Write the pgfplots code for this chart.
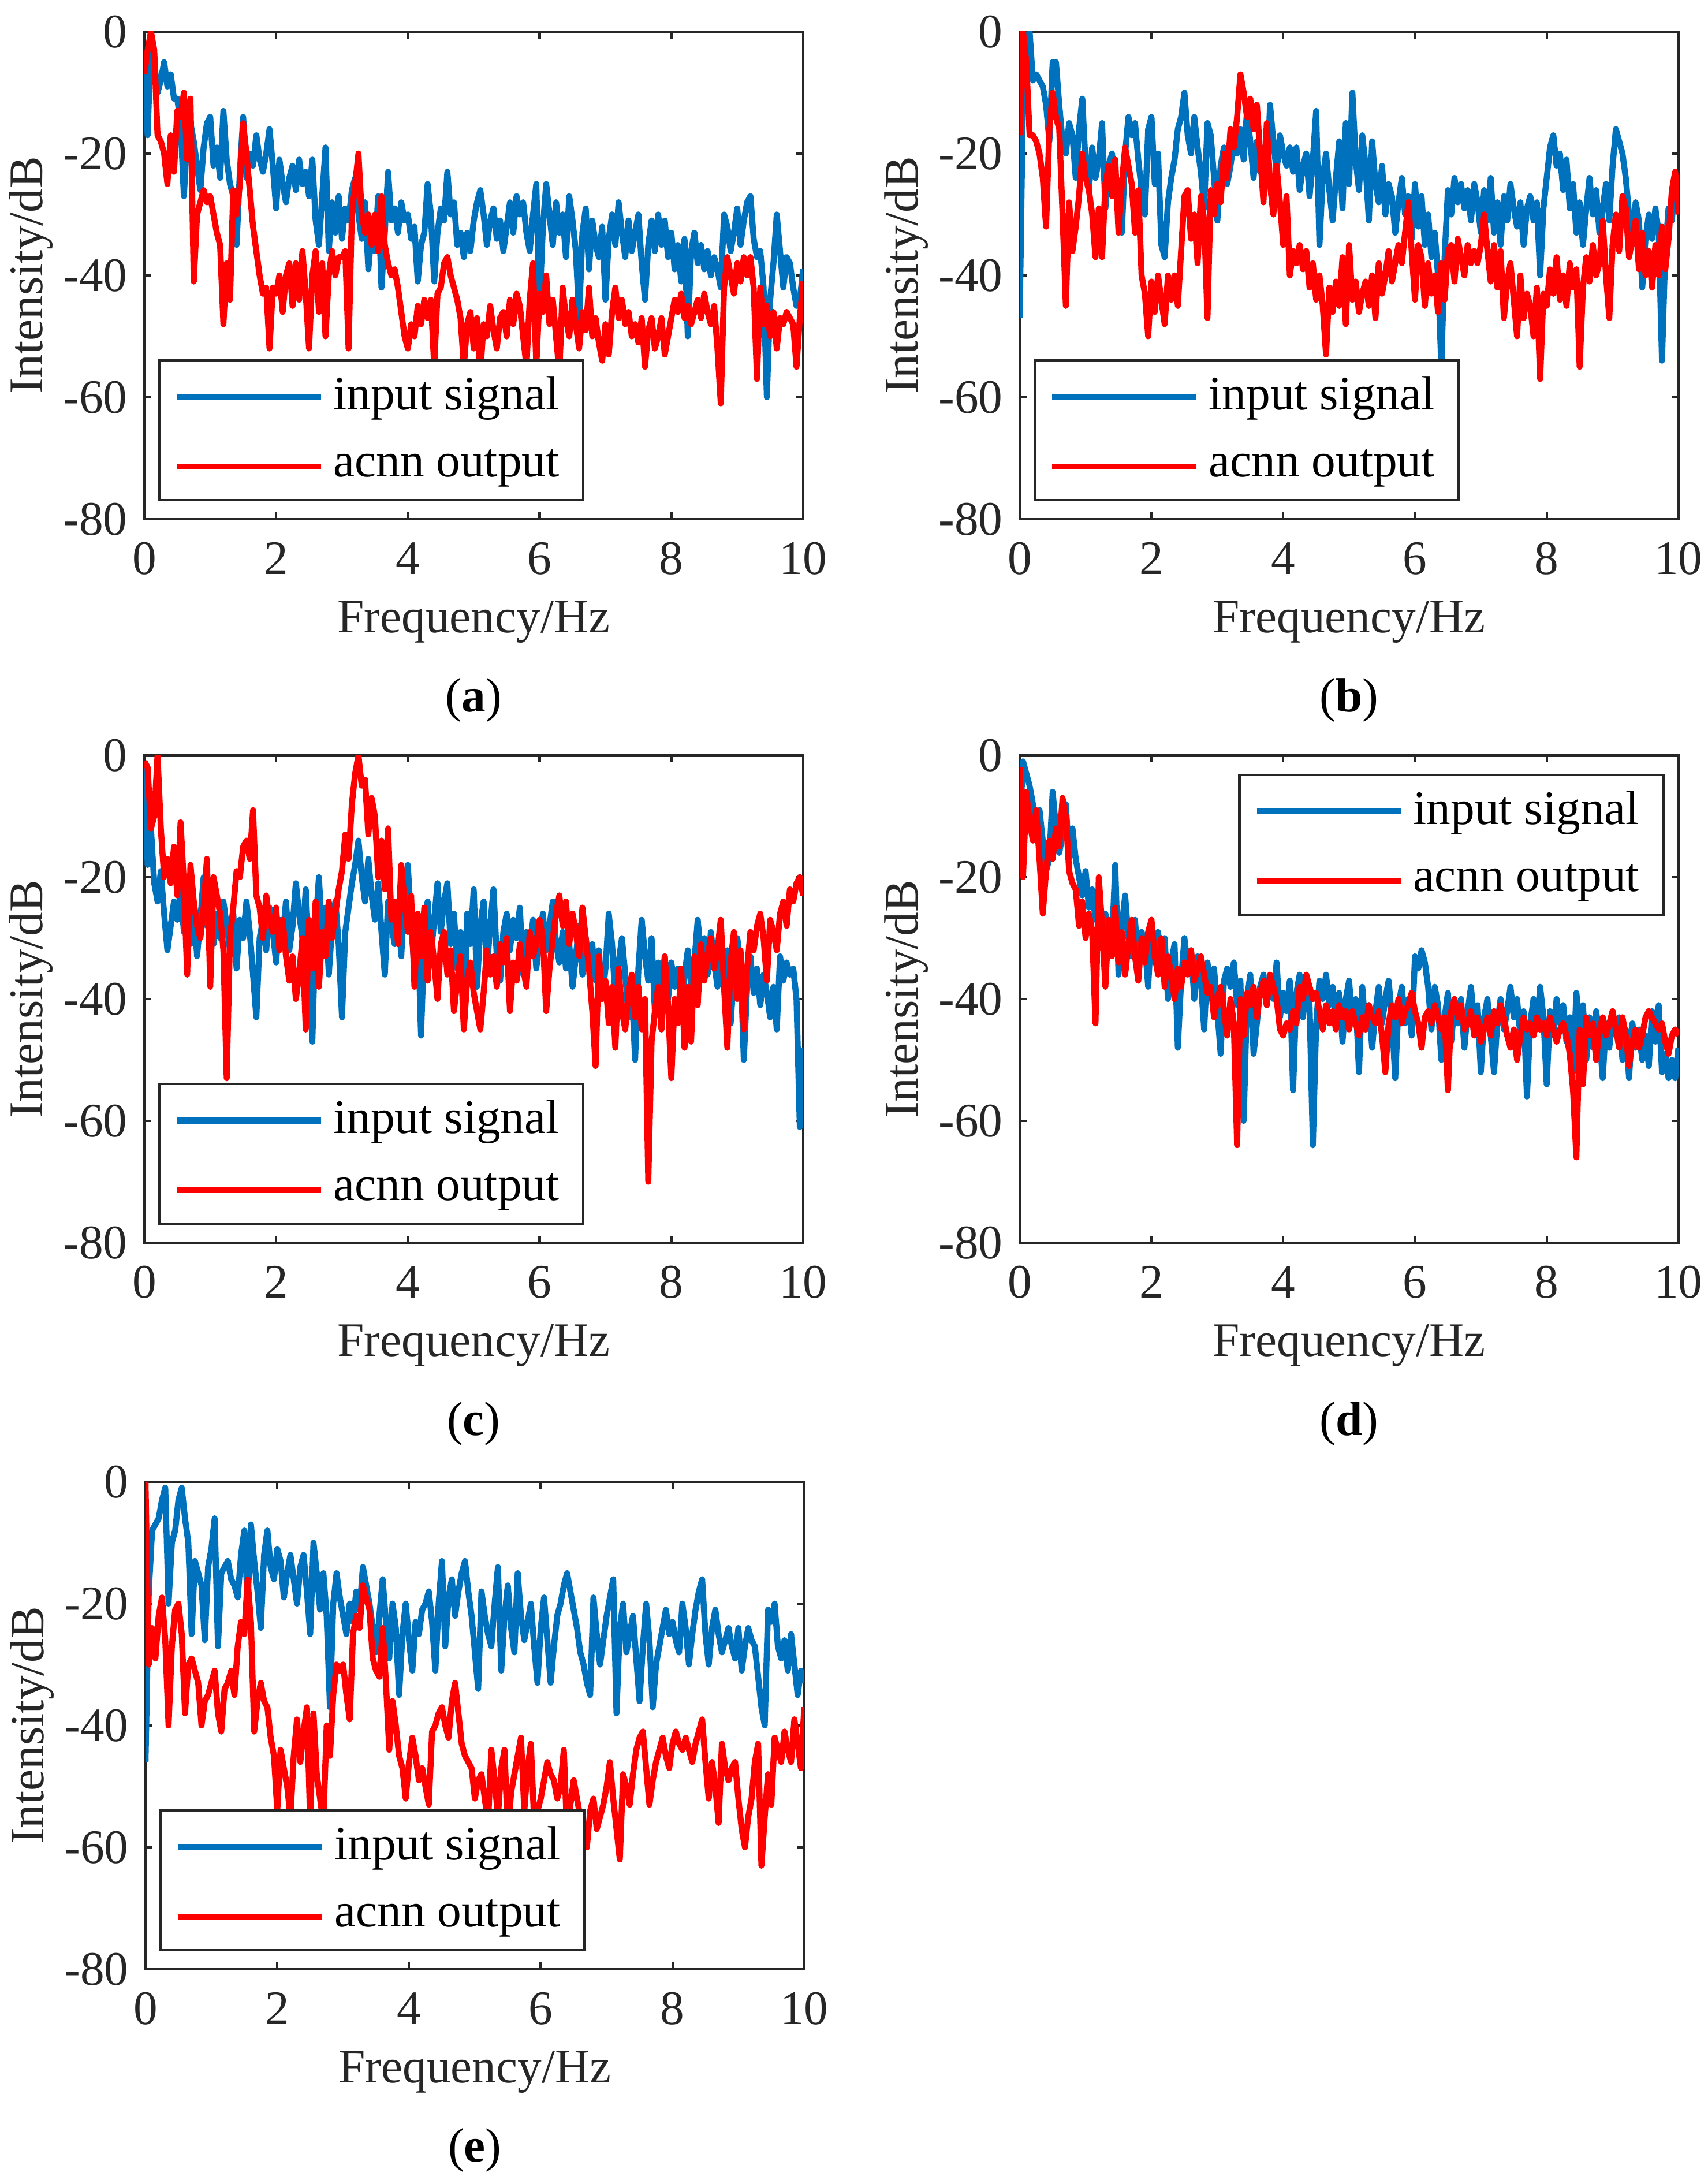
\documentclass[border=0pt]{standalone}
\usepackage{fontspec}
\setmainfont{Liberation Serif}
\usepackage{pgfplots}
\usepackage{pgfplotstable}
\pgfplotsset{compat=1.18}
\definecolor{mblue}{RGB}{0,114,189}
\definecolor{mred}{RGB}{255,0,0}
\definecolor{axgray}{RGB}{38,38,38}

\pgfplotstableread{
f in out
0 -7 -7
0.05 -17 -3
0.1 -1 0
0.15 -5 -3
0.2 -10 -17
0.25 -8 -18
0.3 -5 -20
0.35 -9 -25
0.4 -7 -17
0.45 -11 -23
0.5 -11 -13
0.55 -15 -14
0.6 -27 -10
0.65 -17 -21
0.7 -15 -11
0.75 -18 -41
0.8 -22 -30
0.85 -26 -28
0.9 -19 -26
0.95 -15 -28
1 -14 -27
1.05 -22 -30
1.1 -19 -33
1.15 -24 -35
1.2 -13 -48
1.25 -21 -38
1.3 -25 -44
1.35 -27 -26
1.4 -35 -30
1.45 -23 -25
1.5 -14 -15
1.55 -24 -20
1.6 -20 -26
1.65 -22 -32
1.7 -17 -36
1.75 -21 -40
1.8 -23 -43
1.85 -20 -42
1.9 -16 -52
1.95 -22 -42
2 -29 -43
2.05 -21 -40
2.1 -25 -46
2.15 -28 -40
2.2 -24 -38
2.25 -22 -45
2.3 -26 -38
2.35 -21 -44
2.4 -25 -36
2.45 -23 -43
2.5 -27 -52
2.55 -21 -40
2.6 -31 -36
2.65 -35 -46
2.7 -27 -38
2.75 -19 -50
2.8 -36 -40
2.85 -28 -36
2.9 -33 -40
2.95 -27 -37
3 -34 -37
3.05 -29 -36
3.1 -31 -52
3.15 -26 -30
3.2 -24 -25
3.25 -30 -20
3.3 -34 -30
3.35 -28 -33
3.4 -39 -30
3.45 -33 -35
3.5 -36 -30
3.55 -27 -36
3.6 -42 -27
3.65 -33 -35
3.7 -23 -38
3.75 -31 -40
3.8 -29 -39
3.85 -33 -42
3.9 -28 -46
3.95 -31 -50
4 -30 -52
4.05 -34 -48
4.1 -32 -50
4.15 -41 -45
4.2 -35 -48
4.25 -33 -44
4.3 -25 -47
4.35 -30 -44
4.4 -41 -55
4.45 -33 -43
4.5 -29 -42
4.55 -31 -38
4.6 -23 -37
4.65 -30 -40
4.7 -28 -42
4.75 -35 -44
4.8 -33 -47
4.85 -37 -55
4.9 -33 -48
4.95 -36 -46
5 -31 -52
5.05 -28 -47
5.1 -26 -56
5.15 -30 -48
5.2 -35 -50
5.25 -31 -45
5.3 -29 -49
5.35 -34 -52
5.4 -31 -47
5.45 -36 -46
5.5 -32 -50
5.55 -28 -44
5.6 -33 -48
5.65 -27 -43
5.7 -30 -45
5.75 -28 -50
5.8 -33 -55
5.85 -36 -44
5.9 -30 -38
5.95 -25 -55
6 -45 -43
6.05 -32 -46
6.1 -25 -40
6.15 -30 -48
6.2 -35 -44
6.25 -28 -50
6.3 -33 -56
6.35 -30 -42
6.4 -37 -47
6.45 -27 -50
6.5 -31 -44
6.55 -36 -48
6.6 -47 -52
6.65 -33 -46
6.7 -29 -49
6.75 -39 -42
6.8 -31 -50
6.85 -35 -47
6.9 -37 -51
6.95 -32 -54
7 -44 -48
7.05 -34 -53
7.1 -30 -46
7.15 -35 -42
7.2 -28 -47
7.25 -33 -44
7.3 -37 -48
7.35 -31 -46
7.4 -36 -50
7.45 -33 -48
7.5 -30 -51
7.55 -38 -47
7.6 -44 -55
7.65 -35 -49
7.7 -31 -47
7.75 -36 -52
7.8 -30 -50
7.85 -35 -47
7.9 -31 -53
7.95 -37 -50
8 -33 -47
8.05 -39 -44
8.1 -35 -46
8.15 -41 -43
8.2 -34 -47
8.25 -50 -45
8.3 -36 -48
8.35 -33 -46
8.4 -38 -44
8.45 -35 -47
8.5 -39 -43
8.55 -36 -46
8.6 -40 -48
8.65 -37 -45
8.7 -39 -52
8.75 -42 -61
8.8 -30 -42
8.85 -32 -37
8.9 -36 -40
8.95 -33 -43
9 -29 -38
9.05 -35 -41
9.1 -31 -37
9.15 -28 -40
9.2 -27 -37
9.25 -34 -42
9.3 -37 -57
9.35 -36 -42
9.4 -42 -48
9.45 -60 -45
9.5 -44 -50
9.55 -38 -46
9.6 -30 -52
9.65 -36 -47
9.7 -42 -48
9.75 -37 -46
9.8 -38 -47
9.85 -42 -48
9.9 -45 -55
9.95 -44 -47
10 -39 -41
}\dataA

\pgfplotstableread{
f in out
0 -47 -17
0.05 -10 0
0.1 -2 -5
0.15 0 -17
0.2 -8 -17
0.25 -7 -18
0.3 -8 -20
0.35 -9 -24
0.4 -12 -32
0.45 -18 -16
0.5 -5 -10
0.55 -5 -14
0.6 -12 -16
0.65 -18 -30
0.7 -20 -45
0.75 -15 -28
0.8 -17 -36
0.85 -24 -32
0.9 -16 -27
0.95 -11 -20
1 -22 -24
1.05 -26 -26
1.1 -19 -30
1.15 -24 -37
1.2 -21 -29
1.25 -15 -37
1.3 -29 -25
1.35 -22 -22
1.4 -20 -27
1.45 -24 -21
1.5 -30 -33
1.55 -33 -25
1.6 -20 -19
1.65 -14 -22
1.7 -17 -25
1.75 -15 -33
1.8 -21 -26
1.85 -26 -40
1.9 -30 -43
1.95 -16 -50
2 -14 -41
2.05 -25 -46
2.1 -20 -40
2.15 -35 -44
2.2 -37 -48
2.25 -28 -40
2.3 -24 -44
2.35 -21 -40
2.4 -16 -45
2.45 -14 -36
2.5 -10 -27
2.55 -17 -26
2.6 -20 -34
2.65 -14 -30
2.7 -19 -38
2.75 -23 -27
2.8 -29 -31
2.85 -15 -47
2.9 -17 -26
2.95 -24 -30
3 -31 -25
3.05 -22 -28
3.1 -19 -20
3.15 -25 -24
3.2 -22 -16
3.25 -18 -19
3.3 -20 -14
3.35 -16 -7
3.4 -21 -10
3.45 -13 -14
3.5 -18 -11
3.55 -24 -16
3.6 -18 -12
3.65 -23 -20
3.7 -19 -28
3.75 -25 -15
3.8 -12 -25
3.85 -18 -30
3.9 -23 -22
3.95 -17 -28
4 -20 -35
4.05 -22 -27
4.1 -19 -40
4.15 -23 -36
4.2 -19 -38
4.25 -26 -35
4.3 -22 -39
4.35 -20 -36
4.4 -27 -42
4.45 -21 -38
4.5 -13 -44
4.55 -35 -40
4.6 -24 -45
4.65 -20 -53
4.7 -26 -42
4.75 -31 -46
4.8 -24 -41
4.85 -18 -45
4.9 -29 -37
4.95 -15 -48
5 -25 -35
5.05 -10 -44
5.1 -21 -41
5.15 -26 -46
5.2 -17 -43
5.25 -22 -41
5.3 -31 -45
5.35 -18 -40
5.4 -25 -47
5.45 -28 -38
5.5 -22 -43
5.55 -30 -40
5.6 -25 -36
5.65 -27 -41
5.7 -33 -38
5.75 -28 -35
5.8 -24 -38
5.85 -30 -33
5.9 -27 -28
5.95 -34 -36
6 -25 -44
6.05 -32 -35
6.1 -27 -37
6.15 -35 -45
6.2 -30 -38
6.25 -37 -43
6.3 -33 -40
6.35 -40 -46
6.4 -55 -38
6.45 -37 -44
6.5 -26 -36
6.55 -30 -35
6.6 -24 -41
6.65 -28 -34
6.7 -25 -37
6.75 -29 -40
6.8 -26 -35
6.85 -31 -38
6.9 -25 -36
6.95 -28 -38
7 -33 -35
7.05 -26 -30
7.1 -31 -36
7.15 -24 -41
7.2 -33 -35
7.25 -28 -42
7.3 -35 -36
7.35 -27 -47
7.4 -31 -41
7.45 -25 -38
7.5 -29 -44
7.55 -32 -50
7.6 -28 -40
7.65 -35 -47
7.7 -29 -43
7.75 -27 -45
7.8 -31 -50
7.85 -28 -42
7.9 -40 -57
7.95 -29 -43
8 -24 -45
8.05 -19 -39
8.1 -17 -43
8.15 -22 -37
8.2 -20 -44
8.25 -26 -40
8.3 -21 -45
8.35 -29 -38
8.4 -25 -42
8.45 -33 -39
8.5 -28 -55
8.55 -35 -42
8.6 -29 -37
8.65 -24 -41
8.7 -30 -35
8.75 -26 -40
8.8 -33 -38
8.85 -29 -31
8.9 -25 -40
8.95 -31 -47
9 -22 -35
9.05 -16 -30
9.1 -18 -36
9.15 -20 -27
9.2 -24 -29
9.25 -30 -37
9.3 -35 -34
9.35 -28 -31
9.4 -31 -39
9.45 -42 -33
9.5 -34 -40
9.55 -30 -36
9.6 -34 -42
9.65 -29 -35
9.7 -33 -40
9.75 -54 -32
9.8 -36 -39
9.85 -29 -34
9.9 -31 -26
9.95 -24 -23
10 -27 -30
}\dataB

\pgfplotstableread{
f in out
0 -1 -1
0.05 -18 -2
0.1 -12 -12
0.15 -21 -10
0.2 -24 0
0.25 -19 -12
0.3 -26 -20
0.35 -32 -17
0.4 -28 -21
0.45 -24 -15
0.5 -27 -23
0.55 -22 -11
0.6 -29 -21
0.65 -25 -36
0.7 -31 -18
0.75 -24 -24
0.8 -33 -28
0.85 -27 -30
0.9 -20 -25
0.95 -28 -17
1 -25 -38
1.05 -31 -20
1.1 -26 -23
1.15 -30 -26
1.2 -24 -32
1.25 -28 -53
1.3 -32 -30
1.35 -26 -25
1.4 -35 -19
1.45 -27 -20
1.5 -30 -15
1.55 -24 -14
1.6 -29 -17
1.65 -36 -9
1.7 -43 -23
1.75 -30 -25
1.8 -27 -30
1.85 -32 -23
1.9 -25 -27
1.95 -29 -29
2 -34 -25
2.05 -27 -32
2.1 -30 -27
2.15 -24 -33
2.2 -32 -37
2.25 -28 -33
2.3 -21 -40
2.35 -26 -36
2.4 -30 -30
2.45 -22 -45
2.5 -33 -27
2.55 -47 -35
2.6 -28 -24
2.65 -20 -38
2.7 -30 -29
2.75 -25 -33
2.8 -36 -24
2.85 -28 -30
2.9 -24 -26
2.95 -31 -22
3 -43 -19
3.05 -29 -13
3.1 -25 -17
3.15 -21 -8
3.2 -18 -3
3.25 -14 0
3.3 -20 -5
3.35 -24 -4
3.4 -17 -13
3.45 -23 -7
3.5 -27 -10
3.55 -21 -20
3.6 -29 -14
3.65 -36 -22
3.7 -24 -12
3.75 -28 -27
3.8 -31 -24
3.85 -25 -31
3.9 -33 -18
3.95 -22 -24
4 -18 -29
4.05 -28 -23
4.1 -35 -38
4.15 -27 -26
4.2 -46 -33
4.25 -30 -25
4.3 -24 -37
4.35 -33 -29
4.4 -27 -34
4.45 -21 -40
4.5 -29 -31
4.55 -24 -29
4.6 -21 -36
4.65 -31 -32
4.7 -26 -42
4.75 -35 -37
4.8 -29 -33
4.85 -44 -45
4.9 -26 -37
4.95 -31 -34
5 -22 -39
5.05 -38 -42
5.1 -28 -45
5.15 -24 -39
5.2 -35 -32
5.25 -28 -36
5.3 -22 -33
5.35 -33 -38
5.4 -37 -31
5.45 -29 -34
5.5 -26 -30
5.55 -32 -42
5.6 -27 -34
5.65 -30 -37
5.7 -25 -31
5.75 -36 -35
5.8 -29 -38
5.85 -33 -29
5.9 -27 -33
5.95 -35 -31
6 -30 -27
6.05 -26 -30
6.1 -32 -42
6.15 -28 -35
6.2 -24 -30
6.25 -31 -26
6.3 -34 -23
6.35 -29 -28
6.4 -35 -24
6.45 -31 -31
6.5 -38 -26
6.55 -33 -29
6.6 -28 -33
6.65 -36 -25
6.7 -30 -30
6.75 -34 -35
6.8 -31 -42
6.85 -37 -51
6.9 -32 -33
6.95 -40 -40
7 -35 -37
7.05 -26 -44
7.1 -31 -38
7.15 -40 -48
7.2 -34 -35
7.25 -30 -42
7.3 -36 -45
7.35 -43 -39
7.4 -38 -36
7.45 -50 -43
7.5 -35 -38
7.55 -27 -45
7.6 -33 -40
7.65 -37 -70
7.7 -30 -47
7.75 -42 -42
7.8 -34 -38
7.85 -38 -45
7.9 -33 -33
7.95 -40 -41
8 -34 -53
8.05 -38 -40
8.1 -35 -44
8.15 -41 -35
8.2 -36 -48
8.25 -32 -38
8.3 -38 -47
8.35 -34 -33
8.4 -27 -41
8.45 -33 -31
8.5 -30 -37
8.55 -36 -33
8.6 -29 -30
8.65 -34 -35
8.7 -38 -32
8.75 -33 -27
8.8 -37 -38
8.85 -32 -48
8.9 -44 -34
8.95 -36 -29
9 -30 -40
9.05 -34 -32
9.1 -50 -45
9.15 -38 -35
9.2 -33 -29
9.25 -39 -32
9.3 -35 -28
9.35 -41 -26
9.4 -36 -30
9.45 -39 -37
9.5 -43 -27
9.55 -38 -29
9.6 -45 -32
9.65 -33 -26
9.7 -37 -24
9.75 -34 -28
9.8 -36 -22
9.85 -35 -24
9.9 -40 -21
9.95 -61 -20
10 -48 -23
}\dataC

\pgfplotstableread{
f in out
0 -12 -2
0.05 -1 -20
0.1 -3 -6
0.15 -5 -11
0.2 -8 -14
0.25 -12 -9
0.3 -9 -17
0.35 -14 -26
0.4 -19 -19
0.45 -17 -14
0.5 -6 -17
0.55 -12 -12
0.6 -16 -15
0.65 -13 -7
0.7 -8 -10
0.75 -17 -19
0.8 -12 -21
0.85 -17 -22
0.9 -20 -28
0.95 -23 -24
1 -19 -30
1.05 -25 -26
1.1 -22 -29
1.15 -27 -44
1.2 -24 -20
1.25 -29 -28
1.3 -26 -38
1.35 -28 -27
1.4 -31 -33
1.45 -18 -25
1.5 -36 -34
1.55 -28 -29
1.6 -23 -36
1.65 -30 -31
1.7 -33 -27
1.75 -27 -33
1.8 -35 -37
1.85 -29 -30
1.9 -31 -34
1.95 -38 -29
2 -28 -27
2.05 -33 -33
2.1 -29 -36
2.15 -35 -30
2.2 -30 -38
2.25 -40 -33
2.3 -34 -36
2.35 -31 -40
2.4 -48 -35
2.45 -37 -38
2.5 -30 -34
2.55 -35 -36
2.6 -32 -32
2.65 -40 -37
2.7 -33 -35
2.75 -37 -33
2.8 -45 -36
2.85 -34 -39
2.9 -39 -38
2.95 -35 -43
3 -42 -40
3.05 -49 -38
3.1 -37 -42
3.15 -35 -46
3.2 -38 -40
3.25 -34 -44
3.3 -41 -64
3.35 -37 -40
3.4 -60 -46
3.45 -40 -39
3.5 -36 -41
3.55 -49 -38
3.6 -44 -43
3.65 -38 -39
3.7 -36 -37
3.75 -41 -41
3.8 -37 -36
3.85 -40 -38
3.9 -34 -40
3.95 -43 -45
4 -39 -46
4.05 -42 -44
4.1 -37 -45
4.15 -55 -42
4.2 -39 -44
4.25 -36 -38
4.3 -43 -40
4.35 -38 -36
4.4 -41 -38
4.45 -64 -40
4.5 -44 -39
4.55 -37 -42
4.6 -40 -45
4.65 -36 -41
4.7 -41 -44
4.75 -38 -42
4.8 -43 -45
4.85 -39 -41
4.9 -47 -43
4.95 -40 -42
5 -37 -45
5.05 -44 -42
5.1 -40 -44
5.15 -52 -46
5.2 -38 -43
5.25 -45 -45
5.3 -41 -41
5.35 -48 -43
5.4 -42 -44
5.45 -38 -42
5.5 -44 -46
5.55 -40 -52
5.6 -37 -44
5.65 -43 -41
5.7 -53 -43
5.75 -41 -40
5.8 -38 -44
5.85 -44 -42
5.9 -40 -41
5.95 -46 -39
6 -33 -42
6.05 -35 -44
6.1 -32 -48
6.15 -34 -43
6.2 -38 -42
6.25 -45 -44
6.3 -38 -41
6.35 -41 -43
6.4 -50 -45
6.45 -43 -43
6.5 -39 -55
6.55 -47 -42
6.6 -41 -40
6.65 -44 -43
6.7 -40 -41
6.75 -48 -45
6.8 -42 -44
6.85 -38 -42
6.9 -44 -46
6.95 -41 -43
7 -52 -47
7.05 -43 -45
7.1 -40 -43
7.15 -46 -46
7.2 -52 -42
7.25 -44 -44
7.3 -40 -41
7.35 -45 -43
7.4 -42 -46
7.45 -38 -48
7.5 -43 -45
7.55 -40 -50
7.6 -46 -46
7.65 -42 -43
7.7 -56 -45
7.75 -44 -44
7.8 -40 -46
7.85 -45 -43
7.9 -38 -45
7.95 -43 -44
8 -54 -46
8.05 -42 -43
8.1 -46 -45
8.15 -40 -47
8.2 -44 -45
8.25 -41 -44
8.3 -47 -46
8.35 -43 -49
8.4 -52 -55
8.45 -39 -66
8.5 -45 -45
8.55 -41 -54
8.6 -50 -43
8.65 -43 -46
8.7 -48 -44
8.75 -42 -50
8.8 -46 -45
8.85 -53 -43
8.9 -44 -46
8.95 -48 -44
9 -42 -42
9.05 -46 -45
9.1 -43 -48
9.15 -50 -43
9.2 -45 -46
9.25 -53 -51
9.3 -44 -47
9.35 -48 -45
9.4 -45 -48
9.45 -50 -46
9.5 -46 -43
9.55 -51 -42
9.6 -42 -43
9.65 -47 -44
9.7 -41 -45
9.75 -52 -44
9.8 -49 -47
9.85 -53 -49
9.9 -50 -46
9.95 -53 -45
10 -48 -46
}\dataD

\pgfplotstableread{
f in out
0 -46 0
0.05 -18 -30
0.1 -8 -24
0.15 -7 -29
0.2 -6 -22
0.25 -3 -19
0.3 -1 -26
0.35 -20 -40
0.4 -10 -27
0.45 -8 -21
0.5 -3 -20
0.55 -1 -25
0.6 -6 -38
0.65 -10 -30
0.7 -25 -29
0.75 -13 -31
0.8 -15 -33
0.85 -17 -40
0.9 -26 -36
0.95 -14 -35
1 -11 -33
1.05 -6 -31
1.1 -27 -38
1.15 -15 -41
1.2 -14 -34
1.25 -13 -33
1.3 -16 -31
1.35 -17 -35
1.4 -19 -27
1.45 -12 -23
1.5 -8 -25
1.55 -20 -16
1.6 -7 -23
1.65 -13 -41
1.7 -18 -36
1.75 -24 -33
1.8 -12 -36
1.85 -8 -37
1.9 -14 -42
1.95 -16 -45
2 -11 -54
2.05 -13 -44
2.1 -19 -47
2.15 -15 -50
2.2 -12 -55
2.25 -16 -45
2.3 -20 -39
2.35 -14 -46
2.4 -12 -41
2.45 -18 -37
2.5 -25 -56
2.55 -10 -38
2.6 -15 -48
2.65 -21 -52
2.7 -15 -56
2.75 -22 -40
2.8 -37 -45
2.85 -20 -35
2.9 -15 -30
2.95 -19 -31
3 -22 -30
3.05 -25 -35
3.1 -20 -39
3.15 -23 -25
3.2 -18 -22
3.25 -21 -24
3.3 -14 -17
3.35 -17 -19
3.4 -20 -21
3.45 -24 -29
3.5 -28 -31
3.55 -22 -32
3.6 -16 -24
3.65 -23 -33
3.7 -29 -44
3.75 -20 -36
3.8 -24 -40
3.85 -35 -45
3.9 -25 -47
3.95 -20 -52
4 -26 -46
4.05 -31 -42
4.1 -23 -45
4.15 -25 -49
4.2 -21 -47
4.25 -20 -50
4.3 -18 -53
4.35 -23 -41
4.4 -31 -40
4.45 -20 -38
4.5 -13 -37
4.55 -27 -40
4.6 -19 -42
4.65 -16 -36
4.7 -22 -33
4.75 -18 -38
4.8 -15 -43
4.85 -13 -45
4.9 -18 -46
4.95 -22 -47
5 -28 -52
5.05 -34 -49
5.1 -18 -48
5.15 -22 -52
5.2 -25 -56
5.25 -27 -44
5.3 -20 -49
5.35 -14 -55
5.4 -31 -47
5.45 -22 -44
5.5 -17 -58
5.55 -24 -51
5.6 -28 -48
5.65 -15 -45
5.7 -22 -42
5.75 -26 -54
5.8 -23 -47
5.85 -20 -43
5.9 -27 -56
5.95 -33 -54
6 -24 -52
6.05 -19 -49
6.1 -26 -46
6.15 -33 -48
6.2 -27 -49
6.25 -22 -52
6.3 -20 -50
6.35 -17 -44
6.4 -15 -58
6.45 -18 -53
6.5 -21 -49
6.55 -24 -52
6.6 -28 -55
6.65 -30 -58
6.7 -33 -60
6.75 -35 -54
6.8 -19 -52
6.85 -25 -57
6.9 -30 -55
6.95 -26 -53
7 -22 -50
7.05 -19 -46
7.1 -16 -52
7.15 -38 -57
7.2 -24 -62
7.25 -20 -48
7.3 -28 -50
7.35 -25 -53
7.4 -22 -48
7.45 -29 -44
7.5 -36 -42
7.55 -27 -41
7.6 -20 -47
7.65 -26 -53
7.7 -37 -49
7.75 -30 -46
7.8 -27 -44
7.85 -24 -42
7.9 -21 -45
7.95 -25 -47
8 -23 -43
8.05 -26 -41
8.1 -28 -43
8.15 -20 -44
8.2 -24 -42
8.25 -30 -44
8.3 -25 -46
8.35 -21 -43
8.4 -18 -41
8.45 -16 -39
8.5 -25 -46
8.55 -30 -52
8.6 -24 -46
8.65 -21 -50
8.7 -25 -56
8.75 -28 -43
8.8 -26 -47
8.85 -24 -49
8.9 -27 -47
8.95 -29 -46
9 -24 -52
9.05 -31 -57
9.1 -27 -60
9.15 -24 -55
9.2 -26 -52
9.25 -27 -46
9.3 -32 -43
9.35 -37 -63
9.4 -40 -55
9.45 -21 -48
9.5 -23 -53
9.55 -20 -42
9.6 -27 -44
9.65 -29 -46
9.7 -26 -41
9.75 -31 -44
9.8 -25 -46
9.85 -30 -39
9.9 -35 -43
9.95 -31 -47
10 -33 -37
}\dataE

\pgfplotsset{
  panel/.style={
    scale only axis, width=136.9pt, height=101.3pt,
    xmin=0, xmax=10, ymin=-80, ymax=0,
    xtick={0,2,4,6,8,10}, xticklabels={0,2,4,6,8,10},
    ytick={-80,-60,-40,-20,0}, yticklabels={-80,-60,-40,-20,0},
    tick align=inside, major tick length=1.4pt,
    axis line style={draw=axgray, line width=0.5pt},
    every tick/.style={draw=axgray, line width=0.5pt},
    xticklabel style={anchor=center, yshift=-8.2pt, text=axgray},
    yticklabel style={text=axgray},
    xlabel={Frequency/Hz}, ylabel={Intensity/dB},
    xlabel style={at={([yshift=-21.4pt]axis description cs:0.5,0)}, anchor=center, text=axgray},
    ylabel style={at={([xshift=-23.6pt]axis description cs:0,0.5)}, anchor=center, text=axgray},
    legend cell align=left,
    legend style={draw=axgray, line width=0.5pt, fill=white, text=black,
      inner xsep=3pt, inner ysep=1.4pt, row sep=2.7pt,
      /tikz/every even column/.append style={column sep=2.5pt}},
    legend image code/.code={\draw[##1] (0pt,0pt) -- (29.9pt,0pt);},
  },
  legbl/.style={legend style={at={(0,0)}, anchor=south west, xshift=2.9pt, yshift=3.7pt}},
  legtr/.style={legend style={at={(1,1)}, anchor=north east, xshift=-2.9pt, yshift=-3.8pt}},
  sin/.style={mblue, line width=1.25pt, line join=round},
  sout/.style={mred, line width=1.25pt, line join=round},
}

\begin{document}
\fontsize{10}{12}\selectfont
\begin{tikzpicture}
\useasboundingbox (0,0) rectangle (354.96pt,453pt);

\begin{axis}[panel, legbl, name=pa, at={(30pt,345.12pt)}, anchor=south west]
\addplot[sin] table[x=f, y=in] {\dataA};
\addlegendentry{input signal}
\addplot[sout] table[x=f, y=out] {\dataA};
\addlegendentry{acnn output}
\end{axis}
\node[text=black] at ([yshift=-37.6pt]pa.south) {(\textbf{a})};

\begin{axis}[panel, legbl, name=pb, at={(211.92pt,345.12pt)}, anchor=south west]
\addplot[sin] table[x=f, y=in] {\dataB};
\addlegendentry{input signal}
\addplot[sout] table[x=f, y=out] {\dataB};
\addlegendentry{acnn output}
\end{axis}
\node[text=black] at ([yshift=-37.6pt]pb.south) {(\textbf{b})};

\begin{axis}[panel, legbl, name=pc, at={(30pt,194.76pt)}, anchor=south west]
\addplot[sin] table[x=f, y=in] {\dataC};
\addlegendentry{input signal}
\addplot[sout] table[x=f, y=out] {\dataC};
\addlegendentry{acnn output}
\end{axis}
\node[text=black] at ([yshift=-37.6pt]pc.south) {(\textbf{c})};

\begin{axis}[panel, legtr, name=pd, at={(211.92pt,194.76pt)}, anchor=south west]
\addplot[sin] table[x=f, y=in] {\dataD};
\addlegendentry{input signal}
\addplot[sout] table[x=f, y=out] {\dataD};
\addlegendentry{acnn output}
\end{axis}
\node[text=black] at ([yshift=-37.6pt]pd.south) {(\textbf{d})};

\begin{axis}[panel, legbl, name=pe, at={(30.24pt,43.8pt)}, anchor=south west]
\addplot[sin] table[x=f, y=in] {\dataE};
\addlegendentry{input signal}
\addplot[sout] table[x=f, y=out] {\dataE};
\addlegendentry{acnn output}
\end{axis}
\node[text=black] at ([yshift=-37.6pt]pe.south) {(\textbf{e})};
\end{tikzpicture}
\end{document}
